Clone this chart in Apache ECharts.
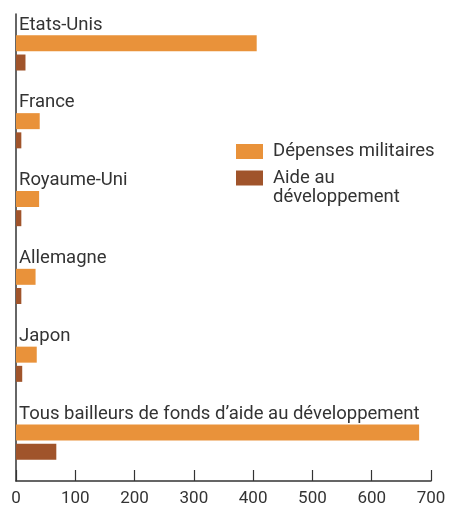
<!DOCTYPE html>
<html><head><meta charset="utf-8">
<script src="https://cdn.jsdelivr.net/npm/echarts@6/dist/echarts.min.js"></script>
<style>html,body{margin:0;padding:0;background:#fff}#c{width:460px;height:507px}</style>
</head><body><div id="c"></div>
<script>
var categories = ['Etats-Unis','France','Royaume-Uni','Allemagne','Japon','Tous bailleurs de fonds d\u2019aide au développement'];
var militaryValues = [406, 40, 39, 33, 35, 680];
var aidValues = [16, 9, 9, 9, 10.5, 68];
var tickLabels = [0,100,200,300,400,500,600,700];
var seriesNames = ['Dépenses militaires','Aide au développement'];

var chart = echarts.init(document.getElementById('c'));
var font = 'Roboto';
var fs = 18.5;
chart.setOption({
  animation:false,
  grid:{left:16,right:29,top:14,bottom:26,containLabel:false},
  xAxis:{type:'value',min:0,max:700,interval:100,
    axisLine:{show:true,lineStyle:{color:'#333',width:1.5}},
    axisTick:{show:true,inside:true,length:11,lineStyle:{color:'#333',width:1.2}},
    splitLine:{show:false},
    axisLabel:{color:'#333',fontFamily:font,fontSize:17,margin:9,
      formatter:function(v){return tickLabels.indexOf(v)>=0?String(v):'';}}
  },
  yAxis:{type:'category',inverse:true,data:categories,
    axisLine:{show:true,lineStyle:{color:'#333',width:1.5}},
    axisTick:{show:false},
    axisLabel:{inside:true,margin:3,verticalAlign:'middle',
      formatter:function(v){return '{t|'+v+'}\n{s| }';},
      rich:{t:{color:'#333',fontFamily:font,fontSize:fs,lineHeight:20},
            s:{fontSize:10,lineHeight:56}}}
  },
  legend:[{
    orient:'vertical',left:231,top:137,itemWidth:27,itemHeight:15,
    icon:'rect',data:[seriesNames[0]],
    textStyle:{color:'#333',fontFamily:font,fontSize:fs,padding:[0,0,0,5]}
  },{
    orient:'vertical',left:231,top:149,itemWidth:27,itemHeight:15,
    icon:'rect',data:[seriesNames[1]],
    formatter:function(){return '{b| }\n{a|Aide au}\n{a|développement}';},
    textStyle:{padding:[0,0,0,5],
      rich:{a:{color:'#333',fontFamily:font,fontSize:fs,lineHeight:19},
            b:{fontSize:10,lineHeight:19}}}
  }],
  series:[
    {name:seriesNames[0],type:'bar',data:militaryValues,barWidth:16,barGap:'20%',
     itemStyle:{color:'#E9923A'}},
    {name:seriesNames[1],type:'bar',data:aidValues,barWidth:16,barGap:'20%',
     itemStyle:{color:'#A0542B'}}
  ]
});
</script></body></html>
